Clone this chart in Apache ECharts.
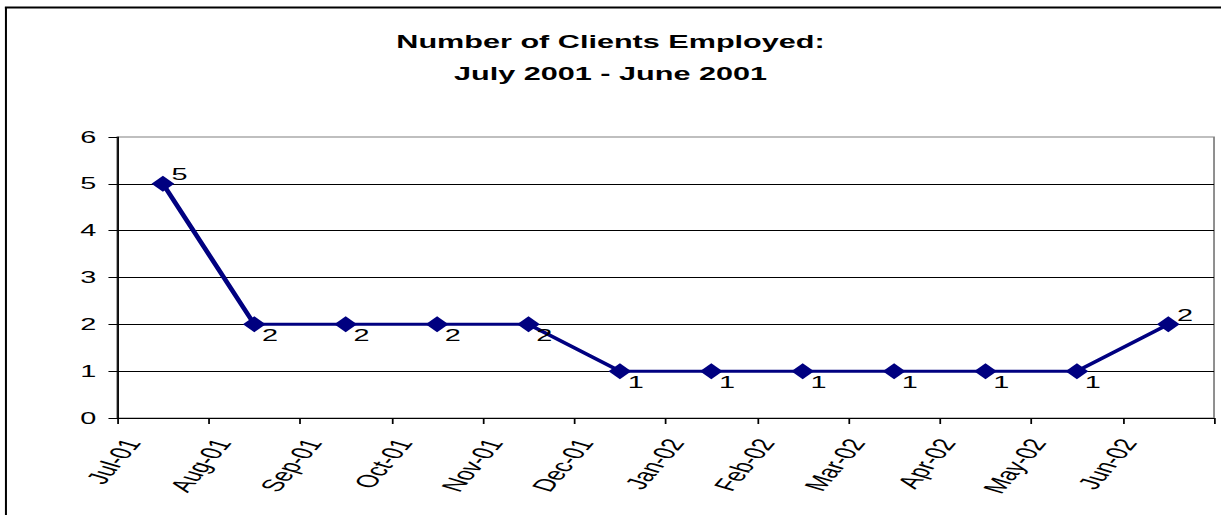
<!DOCTYPE html>
<html>
<head>
<meta charset="utf-8">
<script src="https://cdn.jsdelivr.net/npm/echarts@6/dist/echarts.min.js"></script>
<style>
  html, body { margin: 0; padding: 0; background: #fff; overflow: hidden; }
  /* the chart is laid out narrow and widened horizontally */
  #chart { width: 698px; height: 515px; transform: scaleX(1.7493); transform-origin: 0 0; }
</style>
</head>
<body>
<div id="chart"></div>
<script>
const months = ['Jul-01', 'Aug-01', 'Sep-01', 'Oct-01', 'Nov-01', 'Dec-01',
                'Jan-02', 'Feb-02', 'Mar-02', 'Apr-02', 'May-02', 'Jun-02'];
const clientsEmployed = [5, 2, 2, 2, 2, 1, 1, 1, 1, 1, 1, 2];
const titleLines = ['Number of Clients Employed:', 'July 2001 - June 2001'];

const FONT = 'Arial, "Liberation Sans", Helvetica, sans-serif';
const NAVY = '#000080';

// each month is plotted in the middle of its slot on a 0..12 month scale
const points = clientsEmployed.map((v, i) => {
  const above = i === 0 || i === clientsEmployed.length - 1;
  return {
    value: [i + 0.5, v],
    label: { offset: above ? [9.5, -9] : [9, 11] }
  };
});

const chart = echarts.init(document.getElementById('chart'), null, { renderer: 'svg' });

chart.setOption({
  animation: false,
  backgroundColor: '#fff',
  title: {
    text: titleLines.join('\n'),
    left: 'center',
    top: 21,
    textStyle: { fontFamily: FONT, fontWeight: 'bold', fontSize: 17.5, lineHeight: 32, color: '#000' }
  },
  graphic: [
    { type: 'line', shape: { x1: 3.4, y1: 7, x2: 3.4, y2: 520 }, style: { stroke: '#000', lineWidth: 1.15 } },
    { type: 'line', shape: { x1: 2.8, y1: 7.5, x2: 700, y2: 7.5 }, style: { stroke: '#000', lineWidth: 2 } }
  ],
  grid: [
    { left: 67, top: 137, width: 627, height: 281, show: true, borderColor: '#808080', borderWidth: 1, backgroundColor: '#fff' },
    // carries only the month labels, set a little to the right of the ticks
    { left: 75.4, top: 137, width: 627, height: 281, show: false }
  ],
  xAxis: [
    {
      type: 'value', gridIndex: 0, min: 0, max: 12, interval: 1,
      axisLine: { show: true, onZero: false, lineStyle: { color: '#000', width: 1 } },
      axisTick: { show: true, length: 6, inside: false, lineStyle: { color: '#000', width: 1 } },
      axisLabel: { show: false },
      splitLine: { show: false }
    },
    {
      type: 'value', gridIndex: 1, min: 0, max: 12, interval: 1,
      axisLine: { show: false }, axisTick: { show: false }, splitLine: { show: false },
      axisLabel: {
        show: true, rotate: 63, margin: 22,
        fontFamily: FONT, fontSize: 17.5, color: '#000',
        formatter: v => months[Math.round(v)] || ''
      }
    }
  ],
  yAxis: [
    {
      type: 'value', gridIndex: 0, min: 0, max: 6, interval: 1,
      axisLine: { show: true, onZero: false, lineStyle: { color: '#000', width: 1 } },
      axisTick: { show: true, length: 5, inside: false, lineStyle: { color: '#000', width: 1 } },
      axisLabel: { margin: 12, fontFamily: FONT, fontSize: 16.5, color: '#000' },
      splitLine: { show: true, showMinLine: false, showMaxLine: false, lineStyle: { color: '#000', width: 1 } }
    },
    { type: 'value', gridIndex: 1, min: 0, max: 6, show: false }
  ],
  series: [{
    type: 'line',
    xAxisIndex: 0, yAxisIndex: 0,
    data: points,
    symbol: 'diamond',
    symbolSize: [13, 16],
    itemStyle: { color: NAVY },
    lineStyle: { color: NAVY, width: 3 },
    label: {
      show: true, position: 'inside',
      fontFamily: FONT, fontSize: 16.5, color: '#000',
      formatter: p => p.value[1]
    }
  }]
});
</script>
</body>
</html>
